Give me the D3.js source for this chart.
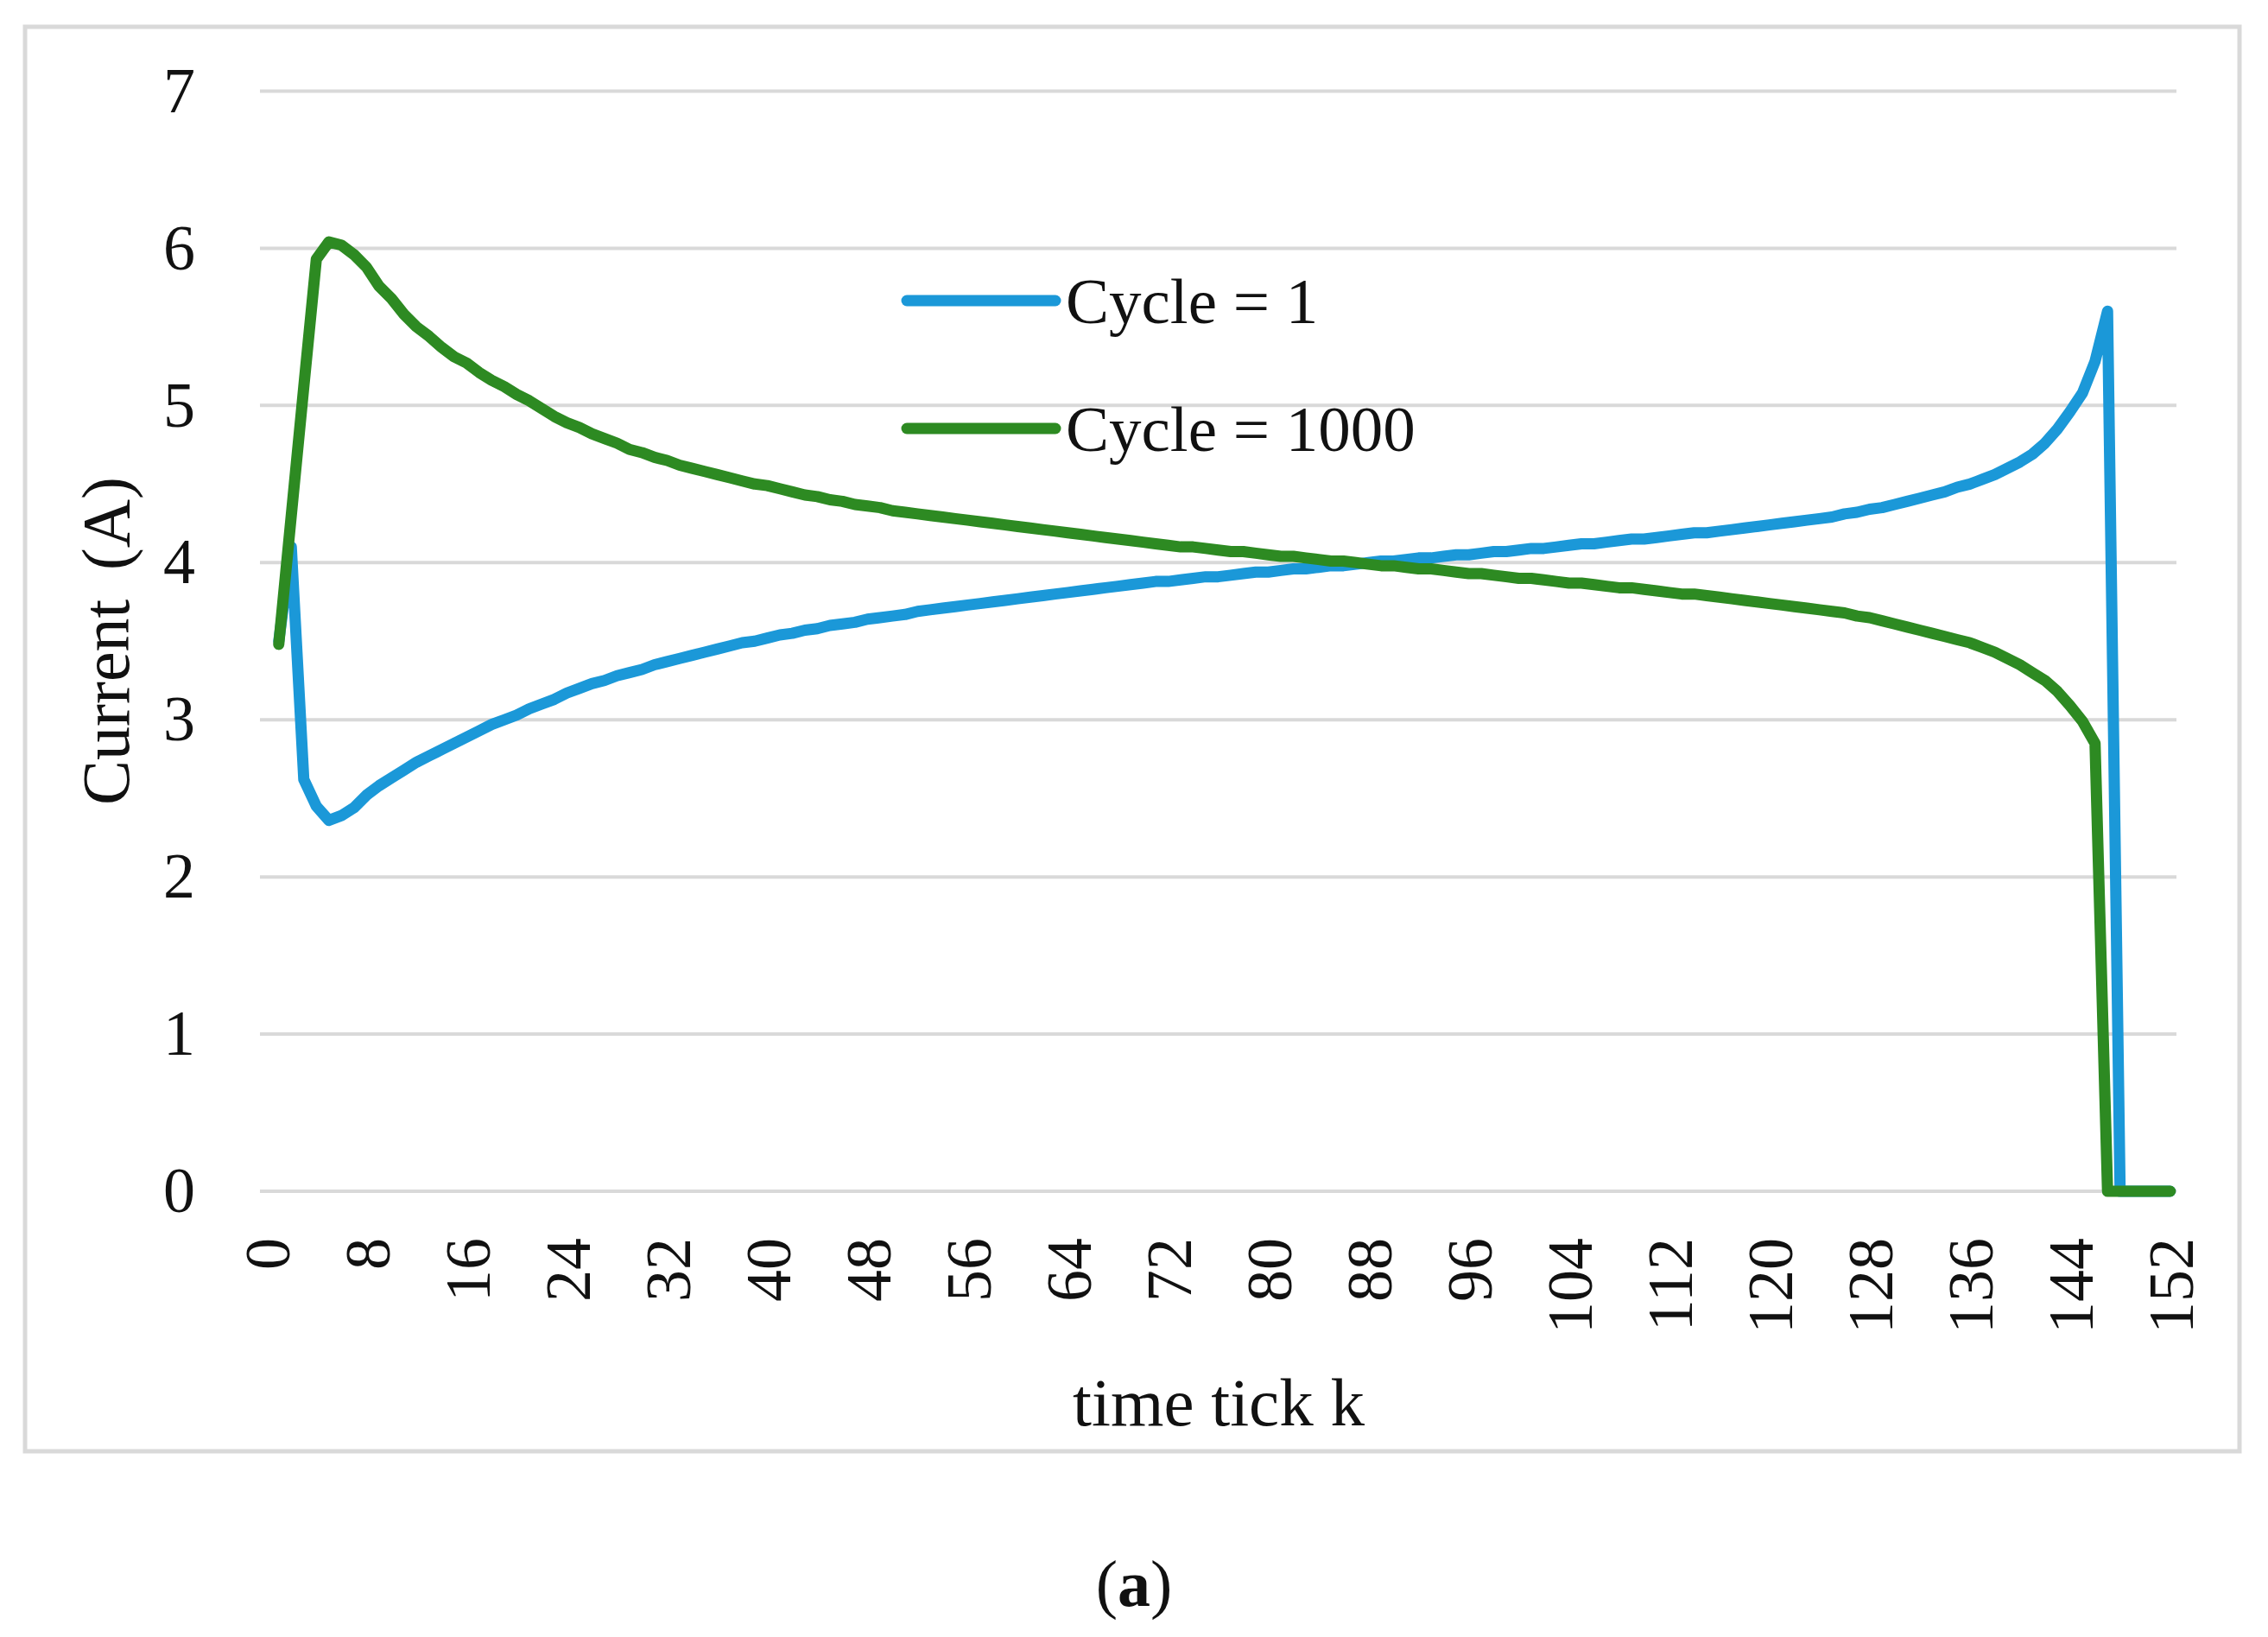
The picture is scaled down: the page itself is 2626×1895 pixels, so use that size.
<!DOCTYPE html>
<html>
<head>
<meta charset="utf-8">
<script src="https://cdn.jsdelivr.net/npm/d3@7"></script>
<style>
	body { margin: 0; background: #fff; }
	text { font-family: "Liberation Serif", "Times New Roman", serif; fill: #111; }
</style>
</head>
<body>
<svg id="chart" width="2626" height="1895"></svg>
<script>

// time ticks k = 1..152
var steps = d3.range(1, 153);

// current (A) for cycle = 1
var cycle1 = [
	3.50, 4.10, 2.62, 2.45, 2.36, 2.39, 2.44, 2.52, 2.58, 2.63,
	2.68, 2.73, 2.77, 2.81, 2.85, 2.89, 2.93, 2.97, 3.00, 3.03,
	3.07, 3.10, 3.13, 3.17, 3.20, 3.23, 3.25, 3.28, 3.30, 3.32,
	3.35, 3.37, 3.39, 3.41, 3.43, 3.45, 3.47, 3.49, 3.50, 3.52,
	3.54, 3.55, 3.57, 3.58, 3.60, 3.61, 3.62, 3.64, 3.65, 3.66,
	3.67, 3.69, 3.70, 3.71, 3.72, 3.73, 3.74, 3.75, 3.76, 3.77,
	3.78, 3.79, 3.80, 3.81, 3.82, 3.83, 3.84, 3.85, 3.86, 3.87,
	3.88, 3.88, 3.89, 3.90, 3.91, 3.91, 3.92, 3.93, 3.94, 3.94,
	3.95, 3.96, 3.96, 3.97, 3.98, 3.98, 3.99, 4.00, 4.01, 4.01,
	4.02, 4.03, 4.03, 4.04, 4.05, 4.05, 4.06, 4.07, 4.07, 4.08,
	4.09, 4.09, 4.10, 4.11, 4.12, 4.12, 4.13, 4.14, 4.15, 4.15,
	4.16, 4.17, 4.18, 4.19, 4.19, 4.20, 4.21, 4.22, 4.23, 4.24,
	4.25, 4.26, 4.27, 4.28, 4.29, 4.31, 4.32, 4.34, 4.35, 4.37,
	4.39, 4.41, 4.43, 4.45, 4.48, 4.50, 4.53, 4.56, 4.60, 4.64,
	4.69, 4.76, 4.85, 4.96, 5.08, 5.28, 5.60, 0, 0, 0,
	0, 0
];

// current (A) for cycle = 1000
var cycle1000 = [
	3.48, 4.30, 5.12, 5.93, 6.04, 6.02, 5.96, 5.88, 5.76, 5.68,
	5.58, 5.50, 5.44, 5.37, 5.31, 5.27, 5.21, 5.16, 5.12, 5.07,
	5.03, 4.98, 4.93, 4.89, 4.86, 4.82, 4.79, 4.76, 4.72, 4.70,
	4.67, 4.65, 4.62, 4.60, 4.58, 4.56, 4.54, 4.52, 4.50, 4.49,
	4.47, 4.45, 4.43, 4.42, 4.40, 4.39, 4.37, 4.36, 4.35, 4.33,
	4.32, 4.31, 4.30, 4.29, 4.28, 4.27, 4.26, 4.25, 4.24, 4.23,
	4.22, 4.21, 4.20, 4.19, 4.18, 4.17, 4.16, 4.15, 4.14, 4.13,
	4.12, 4.11, 4.10, 4.10, 4.09, 4.08, 4.07, 4.07, 4.06, 4.05,
	4.04, 4.04, 4.03, 4.02, 4.01, 4.01, 4.00, 3.99, 3.98, 3.98,
	3.97, 3.96, 3.96, 3.95, 3.94, 3.93, 3.93, 3.92, 3.91, 3.90,
	3.90, 3.89, 3.88, 3.87, 3.87, 3.86, 3.85, 3.84, 3.84, 3.83,
	3.82, 3.81, 3.80, 3.80, 3.79, 3.78, 3.77, 3.76, 3.75, 3.74,
	3.73, 3.72, 3.71, 3.70, 3.69, 3.68, 3.66, 3.65, 3.63, 3.61,
	3.59, 3.57, 3.55, 3.53, 3.51, 3.49, 3.46, 3.43, 3.39, 3.35,
	3.30, 3.25, 3.18, 3.09, 2.99, 2.85, 0, 0, 0, 0,
	0, 0
];

var xTicks = [0, 8, 16, 24, 32, 40, 48, 56, 64, 72, 80, 88, 96, 104, 112, 120, 128, 136, 144, 152];
var yTicks = [0, 1, 2, 3, 4, 5, 6, 7];
var seriesNames = ["Cycle = 1", "Cycle = 1000"];
var seriesColors = ["#1b98d8", "#2d8a22"];

var svg = d3.select("#chart");

// chart frame
svg.append("rect")
	.attr("x", 29).attr("y", 31)
	.attr("width", 2564).attr("height", 1649)
	.attr("fill", "none")
	.attr("stroke", "#d9d9d9")
	.attr("stroke-width", 5);

// category axis: each tick sits in the middle of its slot
var x = d3.scaleLinear().domain([-0.5, 152.5]).range([301, 2520]);
var y = d3.scaleLinear().domain([0, 7]).range([1379, 105.5]);

// horizontal gridlines
svg.append("g").selectAll("line")
	.data(yTicks)
	.enter().append("line")
		.attr("x1", x(-0.5)).attr("x2", x(152.5))
		.attr("y1", function(d) { return y(d); })
		.attr("y2", function(d) { return y(d); })
		.attr("stroke", "#d9d9d9")
		.attr("stroke-width", 4);

var yAxis = svg.append("g")
	.attr("transform", "translate(" + x(-0.5) + ",0)")
	.call(d3.axisLeft(y).tickValues(yTicks).tickFormat(d3.format("d")).tickSize(0).tickPadding(75));
yAxis.select(".domain").remove();
yAxis.attr("font-family", null).attr("font-size", null);
yAxis.selectAll("text")
	.style("font-size", "74px")
	.attr("fill", "#111");

var xAxis = svg.append("g")
	.attr("transform", "translate(0," + y(0) + ")")
	.call(d3.axisBottom(x).tickValues(xTicks).tickFormat(d3.format("d")).tickSize(0));
xAxis.select(".domain").remove();
xAxis.attr("font-family", null).attr("font-size", null);
xAxis.selectAll("text")
	.style("font-size", "74px")
	.attr("fill", "#111")
	.attr("transform", "rotate(-90)")
	.attr("x", -54)
	.attr("y", 0)
	.attr("dy", "0.35em")
	.attr("text-anchor", "end");

// the two current curves, green drawn last so it sits on top
var line = d3.line()
	.x(function(d, i) { return x(steps[i]); })
	.y(function(d) { return y(d); });

[cycle1, cycle1000].forEach(function(series, i) {
	svg.append("path")
		.datum(series)
		.attr("d", line)
		.attr("fill", "none")
		.attr("stroke", seriesColors[i])
		.attr("stroke-width", 13)
		.attr("stroke-linejoin", "round")
		.attr("stroke-linecap", "round");
});

// legend
var legend = svg.append("g").selectAll("g")
	.data(seriesNames)
	.enter().append("g")
		.attr("transform", function(d, i) { return "translate(1050," + (348 + i * 148) + ")"; });

legend.append("line")
	.attr("x1", 0).attr("x2", 172)
	.attr("stroke", function(d, i) { return seriesColors[i]; })
	.attr("stroke-width", 13)
	.attr("stroke-linecap", "round");

legend.append("text")
	.attr("x", 184)
	.attr("dy", "0.35em")
	.style("font-size", "75px")
	.text(function(d) { return d; });

// axis titles
svg.append("text")
	.attr("transform", "translate(122,742) rotate(-90)")
	.attr("text-anchor", "middle")
	.attr("dy", "0.35em")
	.style("font-size", "78px")
	.style("word-spacing", "14px")
	.text("Current (A)");

svg.append("text")
	.attr("x", 1411).attr("y", 1650)
	.attr("text-anchor", "middle")
	.style("font-size", "79px")
	.text("time tick k");

// panel label
var panel = svg.append("text")
	.attr("x", 1313).attr("y", 1859)
	.attr("text-anchor", "middle")
	.style("font-size", "76px");
panel.append("tspan").text("(");
panel.append("tspan").attr("font-weight", "bold").text("a");
panel.append("tspan").text(")");

</script>
</body>
</html>
